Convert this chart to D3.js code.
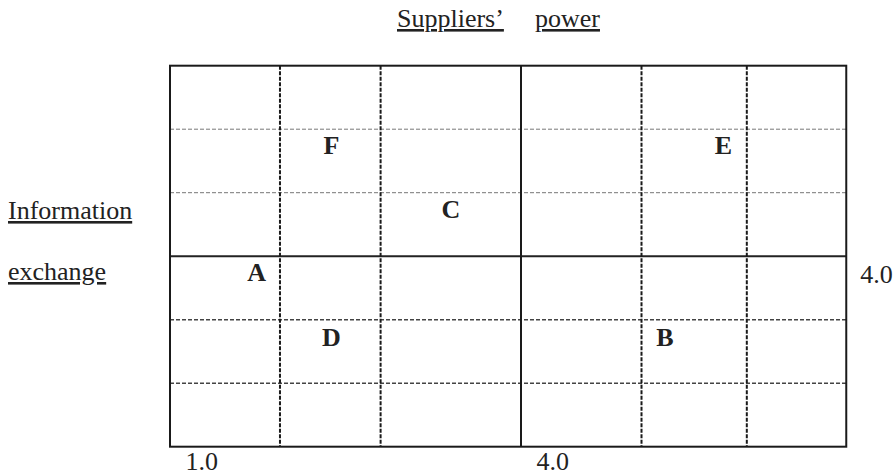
<!DOCTYPE html>
<html>
<head>
<meta charset="utf-8">
<script src="https://cdn.jsdelivr.net/npm/d3@7"></script>
<style>
  body { margin: 0; background: #fff; }
  svg text { font-family: "Times New Roman", "Liberation Serif", Tinos, "DejaVu Serif", serif; fill: #222; }
  .title { font-size: 26px; text-decoration: underline; }
  .tick text { font-size: 26px; }
  .pt { font-size: 26px; font-weight: bold; }
</style>
</head>
<body>
<svg id="canvas"></svg>
<script>
// column boundaries (suppliers' power) and row boundaries (information exchange)
let xBreaks = [1.0, 1.94, 2.8, 4.0, 5.03, 5.93, 6.78]
let yBreaks = [1, 2, 3, 4, 5, 6, 7]
let midValue = 4.0

// companies
let names = ['A', 'B', 'C', 'D', 'E', 'F']
let power = [1.74, 5.23, 3.40, 2.38, 5.73, 2.38]
let info  = [3.74, 2.72, 4.74, 2.72, 5.74, 5.74]

let xTicks = [1.0, 4.0]
let yTicks = [4.0]

let width = 894
let height = 476
let serif = '"Times New Roman", "Liberation Serif", Tinos, "DejaVu Serif", serif'

let canvas = d3.select('#canvas')
canvas.attr('width', width).attr('height', height)

let xScale = d3.scaleLinear().domain([1, 4]).range([170, 521])
let yScale = d3.scaleLinear().domain([1, 7]).range([446.7, 65.7])

let x0 = xScale(xBreaks[0]), x1 = xScale(xBreaks[xBreaks.length - 1])
let y0 = yScale(yBreaks[0]), y1 = yScale(yBreaks[yBreaks.length - 1])

let inner = (arr) => arr.slice(1, -1)

// horizontal grid lines
canvas.selectAll('line.h')
    .data(inner(yBreaks))
    .enter()
    .append('line')
    .attr('class', 'h')
    .attr('x1', x0).attr('x2', x1)
    .attr('y1', (d) => yScale(d)).attr('y2', (d) => yScale(d))
    .attr('stroke', (d) => d == midValue ? '#222' : (d > midValue ? '#777' : '#444'))
    .attr('stroke-width', (d) => d == midValue ? 2 : (d > midValue ? 1 : 1.4))
    .attr('stroke-dasharray', (d) => d == midValue ? null : '4,2')

// vertical grid lines
canvas.selectAll('line.v')
    .data(inner(xBreaks))
    .enter()
    .append('line')
    .attr('class', 'v')
    .attr('y1', y1).attr('y2', y0)
    .attr('x1', (d) => xScale(d)).attr('x2', (d) => xScale(d))
    .attr('stroke', '#1a1a1a')
    .attr('stroke-width', 2)
    .attr('stroke-dasharray', (d) => d == midValue ? null : '4,1.5')

// outer frame
canvas.append('rect')
    .attr('x', x0).attr('y', y1)
    .attr('width', x1 - x0).attr('height', y0 - y1)
    .attr('fill', 'none')
    .attr('stroke', '#1a1a1a')
    .attr('stroke-width', 2)

// letters
canvas.selectAll('text.pt')
    .data(names)
    .enter()
    .append('text')
    .attr('class', 'pt')
    .attr('font-family', serif)
    .attr('x', (d, i) => xScale(power[i]))
    .attr('y', (d, i) => yScale(info[i]))
    .attr('text-anchor', 'middle')
    .attr('dy', '0.33em')
    .text((d) => d)

// axes: only the two marked values, labels sit right of the line
let xAxis = d3.axisBottom(xScale)
    .tickValues(xTicks)
    .tickSize(0)
    .tickFormat(d3.format('.1f'))

let gx = canvas.append('g')
    .attr('id', 'x-axis')
    .attr('transform', `translate(0, ${y0})`)
    .call(xAxis)
gx.attr('font-family', serif).attr('font-size', 26)
gx.select('.domain').remove()
gx.selectAll('text')
    .attr('text-anchor', 'start')
    .attr('x', 15)
    .attr('y', 23.5)
    .attr('dy', 0)

let yAxis = d3.axisRight(yScale)
    .tickValues(yTicks)
    .tickSize(0)
    .tickFormat(d3.format('.1f'))

let gy = canvas.append('g')
    .attr('id', 'y-axis')
    .attr('transform', `translate(${x1}, 0)`)
    .call(yAxis)
gy.attr('font-family', serif).attr('font-size', 26)
gy.select('.domain').remove()
gy.selectAll('text')
    .attr('x', 14)
    .attr('dy', 0)
    .attr('y', 26)

// axis titles
let titles = [
    { t: 'Suppliers’', x: 397, y: 27 },
    { t: 'power', x: 535, y: 27 },
    { t: 'Information', x: 8, y: 219 },
    { t: 'exchange', x: 8, y: 280 }
]
canvas.selectAll('text.title')
    .data(titles)
    .enter()
    .append('text')
    .attr('class', 'title')
    .attr('font-family', serif)
    .attr('x', (d) => d.x)
    .attr('y', (d) => d.y)
    .text((d) => d.t)
</script>
</body>
</html>
